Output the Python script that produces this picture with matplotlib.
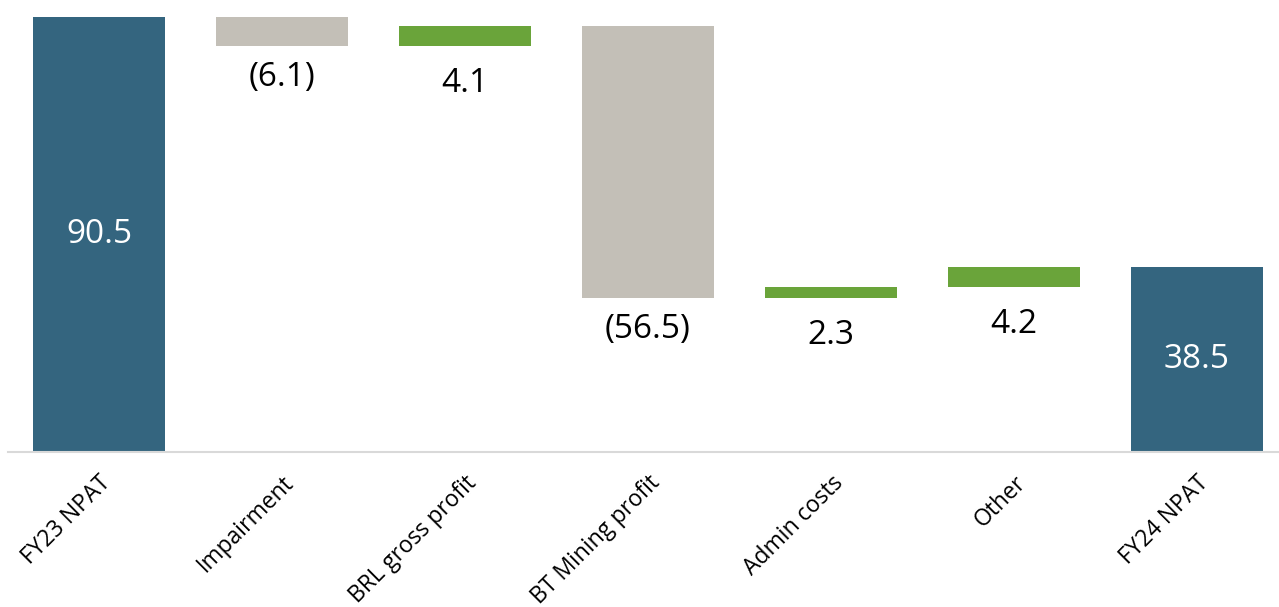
import matplotlib.pyplot as plt

plt.rcParams['font.family'] = ['Open Sans', 'DejaVu Sans']

# waterfall data
categories = ["FY23 NPAT", "Impairment", "BRL gross profit", "BT Mining profit",
              "Admin costs", "Other", "FY24 NPAT"]
changes = [90.5, -6.1, 4.1, -56.5, 2.3, 4.2, 38.5]
labels = ["90.5", "(6.1)", "4.1", "(56.5)", "2.3", "4.2", "38.5"]
is_total = [True, False, False, False, False, False, True]

blue = "#34657F"
grey = "#C3BFB7"
green = "#6AA43A"

fig = plt.figure(figsize=(12.79, 6.07), dpi=100)
ax = fig.add_axes([7.5 / 1279, 155 / 607, 1281 / 1279, 452 / 607])

running = 0.0
x = list(range(len(categories)))
for i, (c, lab, tot) in enumerate(zip(changes, labels, is_total)):
    if tot:
        bottom, height, col = 0, c, blue
        running = c
    else:
        if c < 0:
            bottom, height, col = running + c, -c, grey
        else:
            bottom, height, col = running, c, green
        running += c
    ax.bar(i, height, bottom=bottom, width=0.716, color=col, zorder=2)
    if tot:
        ax.text(i, bottom + height / 2, lab, color="white", fontsize=24,
                ha="center", va="center")
    else:
        # positive labels sit a little lower than the bracketed ones
        off = -15 if c > 0 else -11
        ax.annotate(lab, (i, bottom), xytext=(0, off), textcoords="offset points",
                    ha="center", va="top", fontsize=24, color="black")

ax.set_xlim(-0.5, 6.5)
ax.set_ylim(0, 94.0)
ax.set_yticks([])
for s in ["top", "right", "left"]:
    ax.spines[s].set_visible(False)
ax.spines["bottom"].set_color("#D9D9D9")
ax.spines["bottom"].set_linewidth(1.5)
ax.set_xticks(x)
ax.set_xticklabels(categories, rotation=45, ha="right", rotation_mode="anchor",
                   fontsize=16.5)
ax.tick_params(axis="x", length=0, pad=14)

fig.savefig("out.png", dpi=100)
